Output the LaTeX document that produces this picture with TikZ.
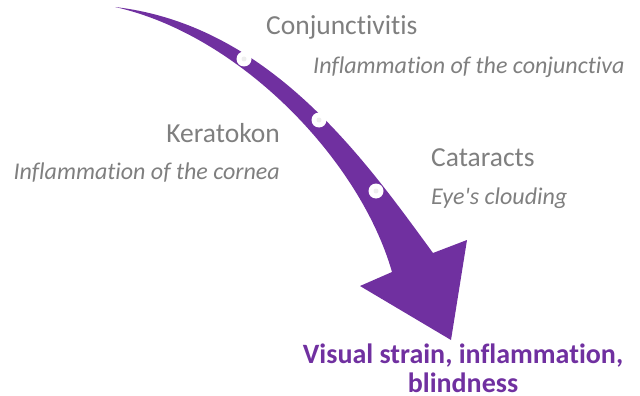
\documentclass[tikz,border=0pt]{standalone}
\usepackage{fontspec}
\setmainfont[Ligatures={NoCommon,NoContextual}]{Carlito}
\definecolor{ipurple}{HTML}{7030A0}
\definecolor{igray}{HTML}{7F7F7F}
\definecolor{idot}{HTML}{EEEEEE}
\begin{document}
\begin{tikzpicture}[x=1pt,y=-1pt,
  title/.style={inner sep=0pt,text=igray,font=\fontsize{27.5}{30}\selectfont},
  desc/.style={inner sep=0pt,text=igray,font=\fontsize{24}{28}\itshape},
  result/.style={inner sep=0pt,text=ipurple,align=center,font=\fontsize{28}{29}\selectfont\bfseries},
  stepdot/.style={circle,fill=white,minimum size=15pt,inner sep=0pt},
  dotcore/.style={circle,fill=idot,minimum size=5pt,inner sep=0pt}]
\useasboundingbox (0,0) rectangle (640,396);
% curved arrow
\fill[ipurple] (115,7) .. controls (270,25) and (365,160) .. (433,253)
  -- (467,240) -- (451,340) -- (360,286) -- (392,272)
  .. controls (360,160) and (240,35) .. (115,7) -- cycle;
% dots
\foreach \n/\p in {d1/{(244,59)},d2/{(319,120)},d3/{(376,191)}}{
  \node[stepdot] (\n) at \p {};
  \node[dotcore] at (\n.center) {};
}
% texts
\node[title,anchor=base west] (conj) at (266,35) {Conjunctivitis};
\node[desc,anchor=base west] (conjd) at (313,74) {Inflammation of the conjunctiva};
\node[title,anchor=base east] (kera) at (280,142) {Keratokon};
\node[desc,anchor=base east] (kerad) at (280,179) {Inflammation of the cornea};
\node[title,anchor=base west] (cata) at (431,166) {Cataracts};
\node[desc,anchor=base west] (catad) at (431,204) {Eye\textquotesingle s clouding};
\node[result,anchor=north] (res) at (463,344) {Visual strain, inflammation,\\blindness};
\end{tikzpicture}
\end{document}
